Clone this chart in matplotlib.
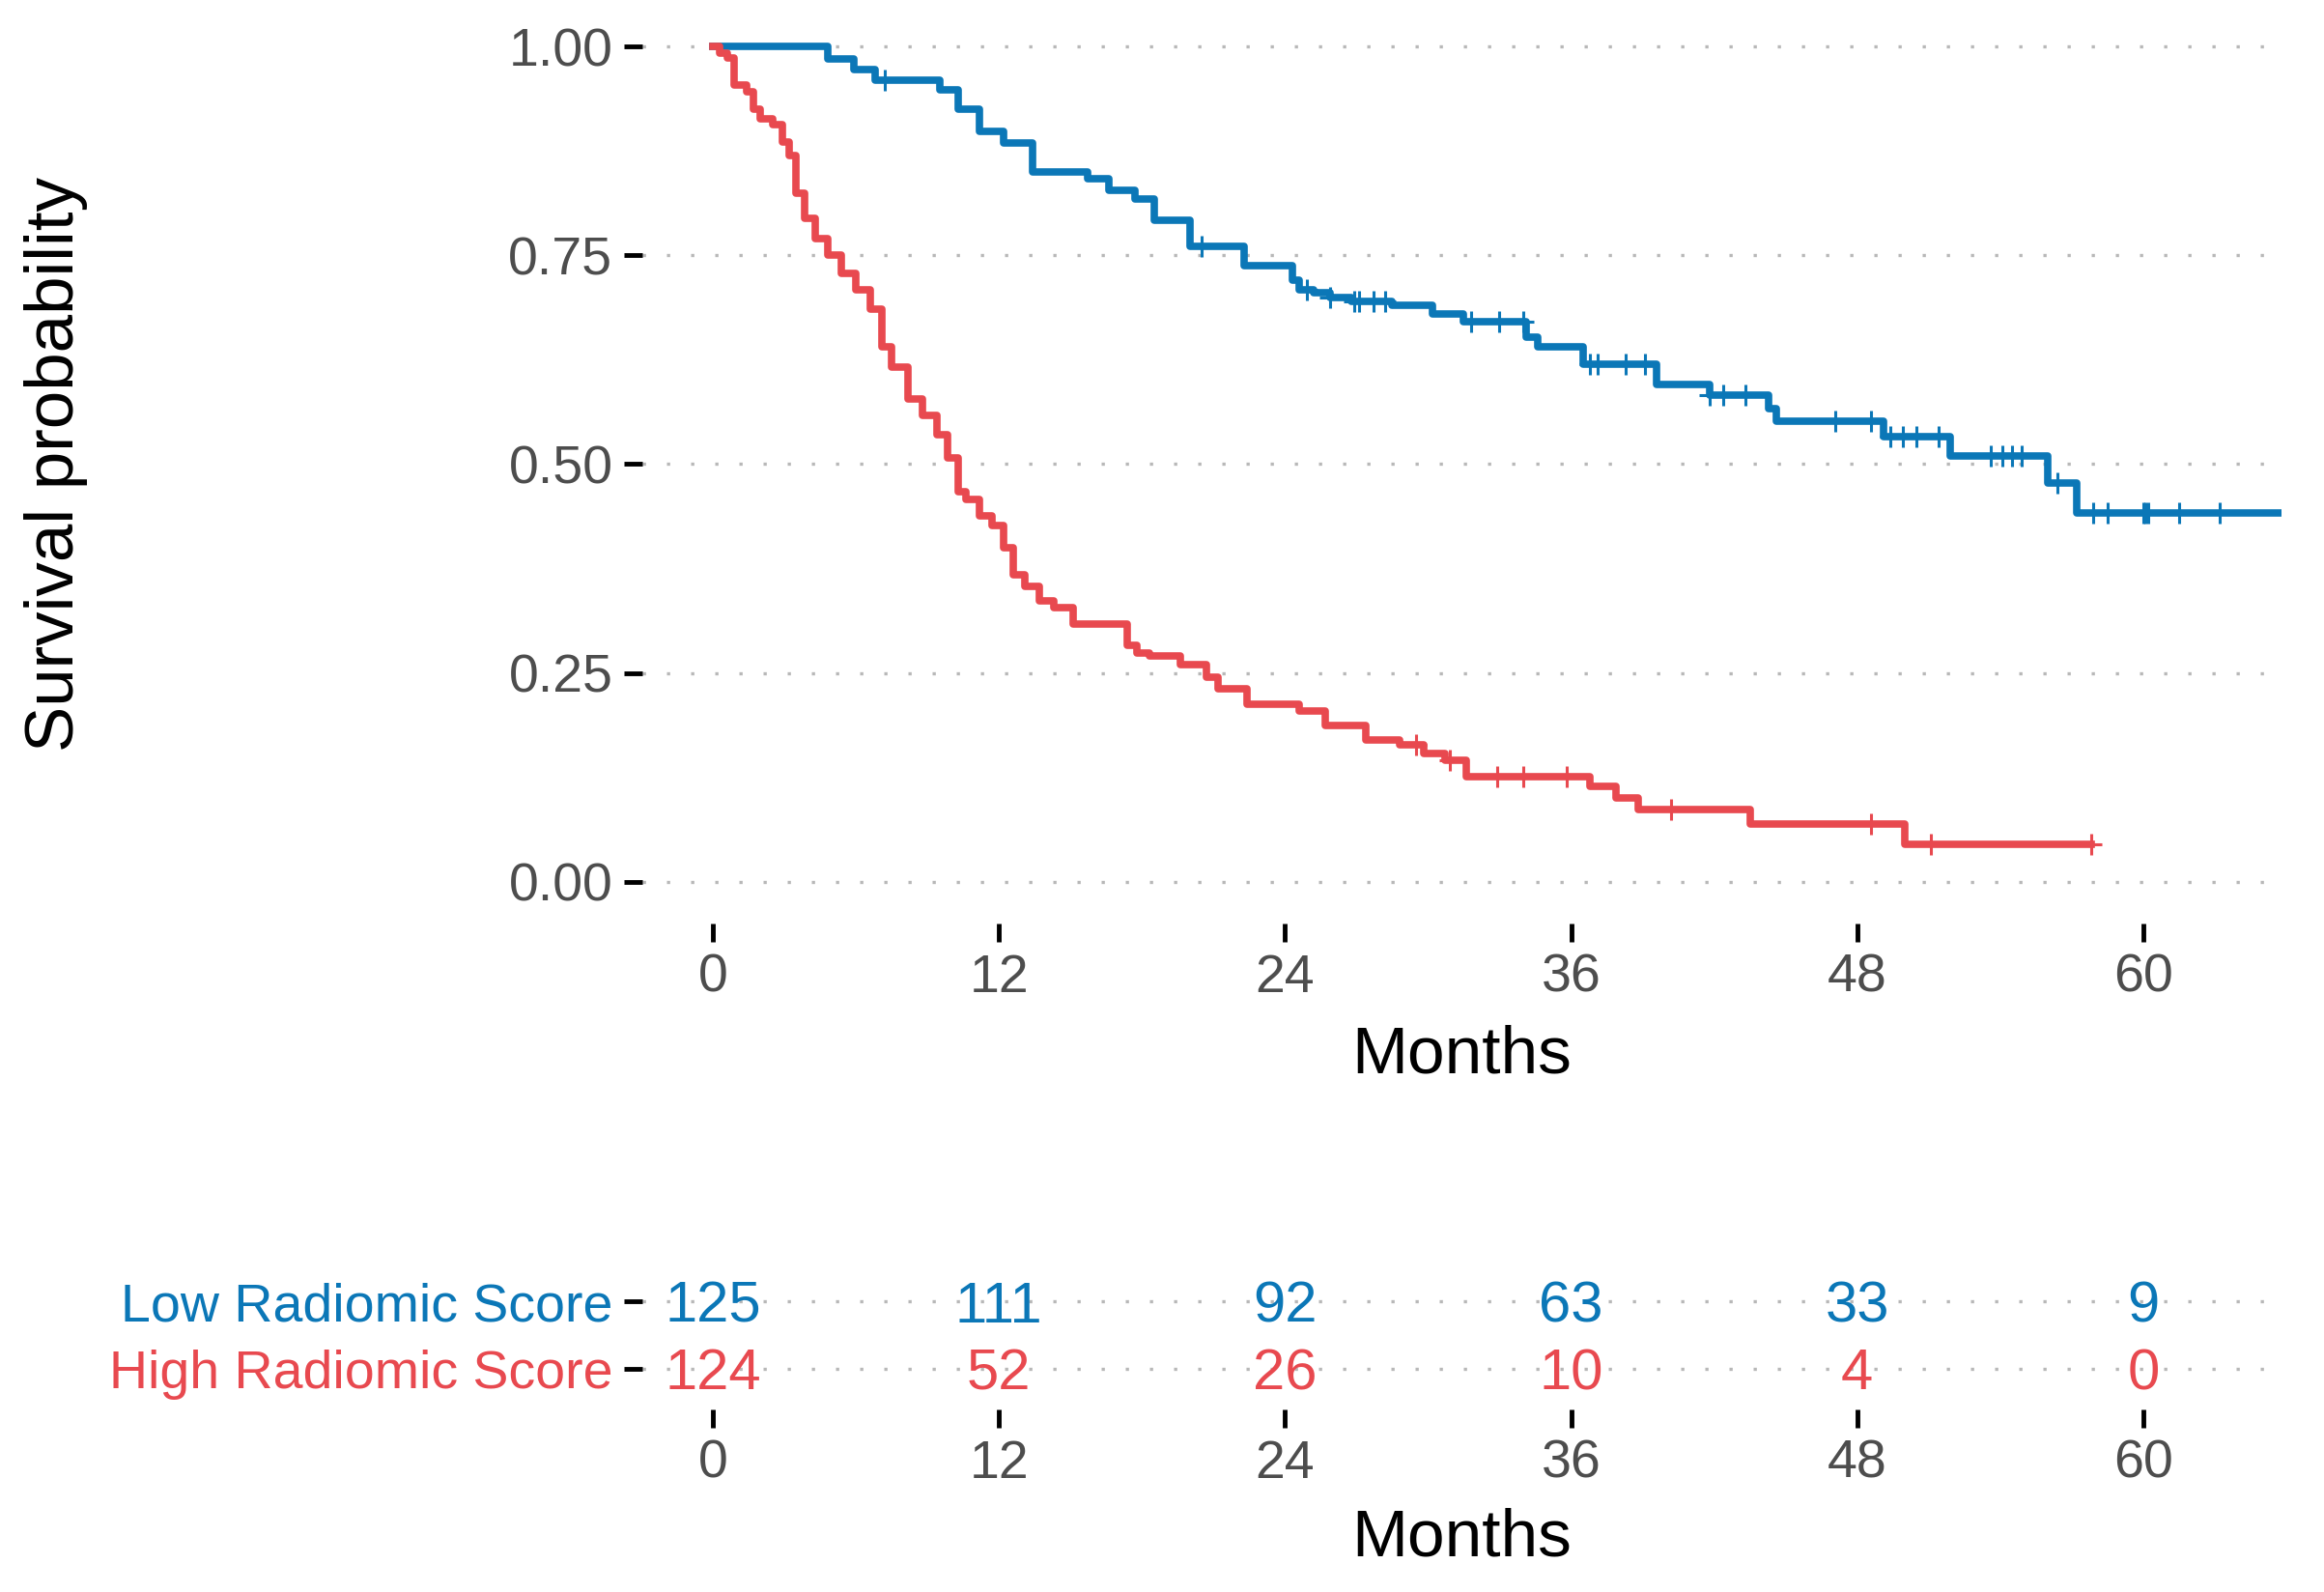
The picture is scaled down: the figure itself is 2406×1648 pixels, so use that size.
import numpy as np
import matplotlib
matplotlib.use('Agg')
import matplotlib.pyplot as plt

plt.rcParams['font.family'] = ['Liberation Sans', 'DejaVu Sans']

# Courbes de Kaplan-Meier (mois, probabilité de survie)
low_t = [0, 4.8, 5.9, 6.8, 9.5, 10.3, 11.2, 12.2, 13.4, 15.7, 16.6, 17.7, 18.5, 20.0, 22.3, 24.3,
         24.6, 25.2, 25.9, 26.8, 28.5, 30.2, 31.5, 34.1, 34.6, 36.5, 39.6, 41.8, 44.3, 44.6, 49.1,
         51.9, 56.0, 57.2, 65.8]
low_s = [1.0, 0.985, 0.973, 0.96, 0.948, 0.925, 0.898, 0.884, 0.85, 0.842, 0.828, 0.817, 0.792,
         0.761, 0.738, 0.72, 0.709, 0.705, 0.70, 0.695, 0.69, 0.68, 0.67, 0.652, 0.64, 0.62, 0.595,
         0.583, 0.566, 0.552, 0.533, 0.51, 0.477, 0.442, 0.442]
low_cens = [7.2, 20.5, 24.9, 25.9, 26.9, 27.1, 27.7, 28.2, 31.8, 33.0, 34.0, 36.8, 37.1, 38.3, 39.1,
            41.8, 42.4, 43.3, 47.1, 48.6, 49.4, 49.9, 50.5, 51.4, 53.6, 54.1, 54.5, 54.9, 56.4,
            57.9, 58.5, 60.0, 60.1, 60.2, 61.5, 63.2]

high_t = [0, 0.3, 0.6, 0.9, 1.4, 1.7, 2.0, 2.5, 2.9, 3.2, 3.5, 3.85, 4.3, 4.8, 5.4, 6.0, 6.6, 7.1,
          7.5, 8.2, 8.8, 9.4, 9.85, 10.3, 10.6, 11.2, 11.7, 12.2, 12.6, 13.1, 13.7, 14.3, 15.1, 17.4,
          17.8, 18.3, 19.6, 20.7, 21.2, 22.4, 24.6, 25.7, 27.4, 28.8, 29.8, 30.7, 31.6, 36.8, 37.9,
          38.8, 43.5, 50.0, 57.8]
high_s = [1.0, 0.992, 0.986, 0.954, 0.946, 0.925, 0.913, 0.907, 0.886, 0.87, 0.824, 0.794, 0.77,
          0.75, 0.728, 0.709, 0.686, 0.64, 0.616, 0.578, 0.558, 0.535, 0.508, 0.467, 0.458, 0.438,
          0.426, 0.40, 0.368, 0.354, 0.336, 0.328, 0.309, 0.283, 0.274, 0.27, 0.26, 0.245, 0.231,
          0.213, 0.205, 0.187, 0.17, 0.164, 0.154, 0.146, 0.126, 0.114, 0.10, 0.087, 0.069, 0.045,
          0.045]
high_cens = [29.5, 30.9, 32.9, 34.0, 35.8, 40.2, 48.6, 51.1, 57.8]

# Tableau des effectifs à risque
groups = ['Low Radiomic Score', 'High Radiomic Score']
risk_times = [0, 12, 24, 36, 48, 60]
low_risk = [125, 111, 92, 63, 33, 9]
high_risk = [124, 52, 26, 10, 4, 0]

col_low = '#0B77B7'
col_high = '#E8494F'
grey_txt = '#4D4D4D'
grid_style = dict(color='#B8B8B8', linewidth=2.4, linestyle=(0, (1, 6.5)))
xlim = (-2.96, 65.8)


def step_value(t, s, x):
    idx = np.searchsorted(t, x, side='right') - 1
    return np.array(s)[idx]


fig = plt.figure(figsize=(24.06, 16.48), dpi=100)

# 1. Courbes de survie
ax = fig.add_axes([0.2764, 0.4199, 0.7053, 0.5771])
ax.set_xlim(*xlim)
ax.set_ylim(-0.05, 1.05)
for y in [0, 0.25, 0.5, 0.75, 1.0]:
    ax.axhline(y, zorder=0, **grid_style)

ax.step(low_t, low_s, where='post', color=col_low, lw=5.5, zorder=3)
ax.step(high_t, high_s, where='post', color=col_high, lw=5.5, zorder=3)
ax.plot(low_cens, step_value(low_t, low_s, low_cens), '+', color=col_low, ms=16, mew=2.2, zorder=4)
ax.plot(high_cens, step_value(high_t, high_s, high_cens), '+', color=col_high, ms=16, mew=2.2, zorder=4)

ax.set_xticks(risk_times)
ax.set_yticks([0, 0.25, 0.5, 0.75, 1.0])
ax.set_yticklabels(['0.00', '0.25', '0.50', '0.75', '1.00'])
ax.tick_params(axis='both', length=14, width=3.5, color='black', labelsize=40,
               labelcolor=grey_txt, pad=8)
for sp in ax.spines.values():
    sp.set_visible(False)
ax.set_xlabel('Months', fontsize=50, color='black', va='center')
ax.xaxis.set_label_coords(0.5, -0.143)
ax.set_ylabel('Survival probability', fontsize=51, color='black', va='center')
ax.yaxis.set_label_coords(-0.358, 0.5)

# 2. Tableau "number at risk"
rt = fig.add_axes([0.2764, 0.1147, 0.7053, 0.0934])
rt.set_xlim(*xlim)
rt.set_ylim(0.4, 2.6)
for y in [1, 2]:
    rt.axhline(y, zorder=0, **grid_style)
for x, n in zip(risk_times, low_risk):
    rt.text(x, 2, str(n), color=col_low, fontsize=43, ha='center', va='center_baseline')
for x, n in zip(risk_times, high_risk):
    rt.text(x, 1, str(n), color=col_high, fontsize=43, ha='center', va='center_baseline')

rt.set_xticks(risk_times)
rt.set_yticks([2, 1])
rt.set_yticklabels(groups)
rt.tick_params(axis='both', length=14, width=3.5, color='black', labelsize=40,
               labelcolor=grey_txt, pad=8)
for lab, c in zip(rt.get_yticklabels(), [col_low, col_high]):
    lab.set_color(c)
for sp in rt.spines.values():
    sp.set_visible(False)
rt.set_xlabel('Months', fontsize=50, color='black', va='center')
rt.xaxis.set_label_coords(0.5, -0.867)

plt.savefig('out.png', dpi=100)
